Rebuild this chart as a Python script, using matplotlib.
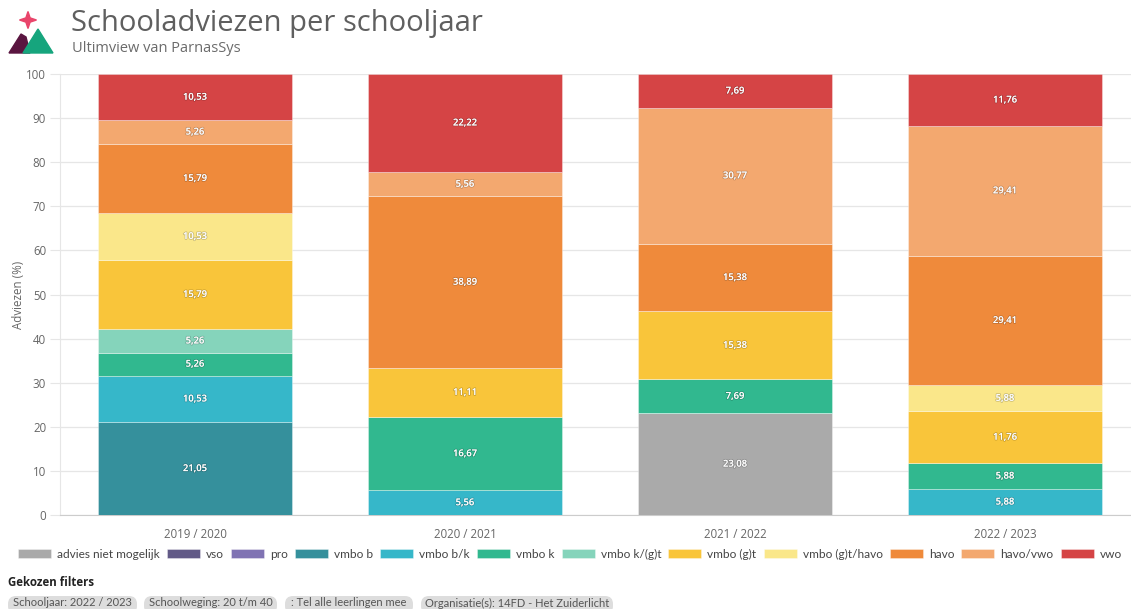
import matplotlib
matplotlib.use("Agg")
import matplotlib.pyplot as plt
import matplotlib.patheffects as pe
from matplotlib.patches import Polygon, FancyBboxPatch
import numpy as np

plt.rcParams['font.family'] = ['Open Sans', 'DejaVu Sans']
NARROW = ['Liberation Sans Narrow', 'Lato', 'DejaVu Sans']

years = ["2019 / 2020", "2020 / 2021", "2021 / 2022", "2022 / 2023"]
categories = ["advies niet mogelijk", "vso", "pro", "vmbo b", "vmbo b/k", "vmbo k",
              "vmbo k/(g)t", "vmbo (g)t", "vmbo (g)t/havo", "havo", "havo/vwo", "vwo"]
colors = ["#aaaaaa", "#625a87", "#8073b3", "#35909c", "#36b7c9", "#31b88f",
          "#85d4bb", "#f9c53a", "#fae78a", "#ef8a3b", "#f3a86f", "#d54445"]

advies_niet_mogelijk = [0, 0, 23.08, 0]
vso = [0, 0, 0, 0]
pro = [0, 0, 0, 0]
vmbo_b = [21.05, 0, 0, 0]
vmbo_bk = [10.53, 5.56, 0, 5.88]
vmbo_k = [5.26, 16.67, 7.69, 5.88]
vmbo_kgt = [5.26, 0, 0, 0]
vmbo_gt = [15.79, 11.11, 15.38, 11.76]
vmbo_gt_havo = [10.53, 0, 0, 5.88]
havo = [15.79, 38.89, 15.38, 29.41]
havo_vwo = [5.26, 5.56, 30.77, 29.41]
vwo = [10.53, 22.22, 7.69, 11.76]

series = [advies_niet_mogelijk, vso, pro, vmbo_b, vmbo_bk, vmbo_k, vmbo_kgt,
          vmbo_gt, vmbo_gt_havo, havo, havo_vwo, vwo]

W, H = 1131, 609
fig = plt.figure(figsize=(W / 100, H / 100), dpi=100)
fig.patch.set_facecolor("white")

ax_l, ax_r, ax_t, ax_b = 60, 1131, 74, 515
ax = fig.add_axes([ax_l / W, 1 - ax_b / H, (ax_r - ax_l) / W, (ax_b - ax_t) / H])
x = np.arange(len(years))
band = 270.0
ax.set_xlim(-0.5, -0.5 + (ax_r - ax_l) / band)
ax.set_ylim(0, 100)

bottom = np.zeros(len(years))
for name, vals, col in zip(categories, series, colors):
    vals = np.array(vals, dtype=float)
    ax.bar(x, vals, width=0.72, bottom=bottom, color=col, edgecolor=(1, 1, 1, 0.6),
           linewidth=0.4, zorder=3, label=name)
    for xi, v, b in zip(x, vals, bottom):
        if v > 0:
            t = ax.text(xi, b + v / 2, f"{v:.2f}".replace(".", ","), ha="center",
                        va="center", fontsize=6.8, color="white", fontweight="semibold",
                        zorder=5)
            t.set_path_effects([pe.withStroke(linewidth=1.2, foreground=(0, 0, 0, 0.18))])
    bottom += vals

ax.set_yticks(np.arange(0, 101, 10))
ax.yaxis.grid(True, color="#e6e6e6", linewidth=0.9, zorder=0)
ax.set_axisbelow(True)
ax.tick_params(axis="y", length=7, color="#e6e6e6", labelsize=8.3, labelcolor="#666666", pad=3)
ax.set_xticks(x)
ax.set_xticklabels(years)
ax.tick_params(axis="x", length=0, labelsize=8.3, labelcolor="#666666", pad=9)
for s in ["top", "right"]:
    ax.spines[s].set_visible(False)
ax.spines["left"].set_color("#e6e6e6")
ax.spines["bottom"].set_color("#cccccc")
ax.set_ylabel("Adviezen (%)", fontsize=8.3, color="#666666")
ax.yaxis.set_label_coords((25 - ax_l) / (ax_r - ax_l), 0.50)

# legend
handles, labels = ax.get_legend_handles_labels()
fs = 8.6
leg = fig.legend(handles, labels, loc="center", bbox_to_anchor=(570 / W, 1 - 554 / H),
                 ncol=12, frameon=False, handlelength=2.76, handleheight=0.84,
                 handletextpad=0.5, columnspacing=0.6, labelcolor="#444444",
                 prop={'family': NARROW, 'size': fs})

# overlay for header / filters (y up, pixel units)
ov = fig.add_axes([0, 0, 1, 1], zorder=10)
ov.set_xlim(0, W)
ov.set_ylim(0, H)
ov.axis("off")

def Y(y):
    return H - y

# logo
ov.add_patch(Polygon([[9, Y(53)], [21, Y(34)], [26, Y(37)], [30, Y(53)]], closed=True, color="#5a1540"))
ov.add_patch(Polygon([[23, Y(53)], [38, Y(29)], [53, Y(53)]], closed=True, color="#16a57d"))
star = []
cx, cy = 28, 20
for k in range(8):
    ang = np.pi / 2 + k * np.pi / 4
    r = 8.5 if k % 2 == 0 else 3
    star.append([cx + r * np.cos(ang), Y(cy) + r * np.sin(ang)])
ov.add_patch(Polygon(star, closed=True, color="#e9456b"))

ov.text(71, Y(24), "Schooladviezen per schooljaar", fontsize=21, color="#5f5f5f",
        va="center", ha="left")
ov.text(72, Y(48), "Ultimview van ParnasSys", fontsize=10.5, color="#6b6b6b", va="center", ha="left")

ov.text(8, Y(582), "Gekozen filters", fontsize=8.3, fontweight="bold", color="#222222",
        va="center", ha="left")
pills = [("Schooljaar: 2022 / 2023", 8, 137),
         ("Schoolweging: 20 t/m 40", 144, 277),
         (": Tel alle leerlingen mee", 285, 413),
         ("Organisatie(s): 14FD - Het Zuiderlicht", 421, 613)]
for txt, x0, x1 in pills:
    ov.add_patch(FancyBboxPatch((x0, Y(614)), x1 - x0, 18,
                                boxstyle="round,pad=0,rounding_size=8",
                                fc="#dddddd", ec="none"))
    ov.text((x0 + x1) / 2, Y(603), txt, fontsize=8, color="#555555", ha="center",
            va="center", family=NARROW)

fig.savefig("out.png", dpi=100, facecolor="white")
